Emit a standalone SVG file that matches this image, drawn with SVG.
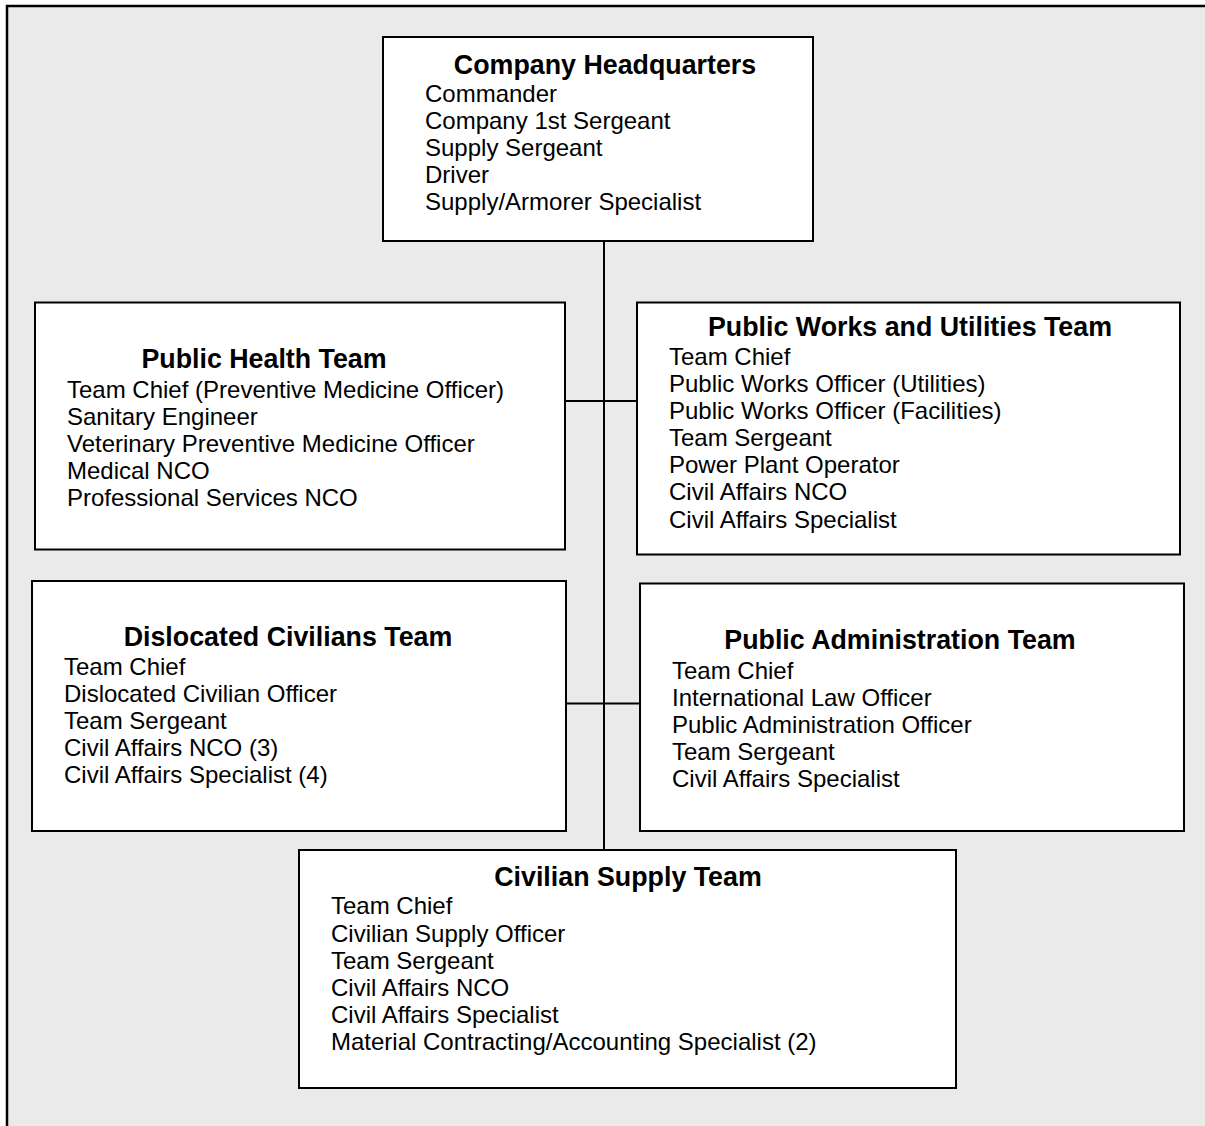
<svg xmlns="http://www.w3.org/2000/svg" width="1205" height="1126" viewBox="0 0 1205 1126">
  <style>
    .frame { fill: #eaeaea; stroke: #000; stroke-width: 2.5; }
    .box { fill: #fff; stroke: #000; stroke-width: 2; }
    .wire { stroke: #000; stroke-width: 2; fill: none; }
    text { font-family: "Liberation Sans", Arial, sans-serif; fill: #000; }
    .title { font-size: 26.8px; font-weight: bold; text-anchor: middle; }
    .item { font-size: 24px; }
  </style>

  <!-- background panel -->
  <rect class="frame" x="7" y="6" width="1210" height="1130"/>

  <!-- connectors -->
  <g id="connectors">
    <line class="wire" x1="604" y1="241" x2="604" y2="850"/>
    <line class="wire" x1="565" y1="401" x2="637" y2="401"/>
    <line class="wire" x1="566" y1="703.5" x2="640" y2="703.5"/>
  </g>

  <g id="company-hq">
    <rect class="box" x="383" y="37" width="430" height="204"/>
    <text class="title" x="605" y="74">Company Headquarters</text>
    <text class="item" x="425" y="102">Commander</text>
    <text class="item" x="425" y="129">Company 1st Sergeant</text>
    <text class="item" x="425" y="156">Supply Sergeant</text>
    <text class="item" x="425" y="183">Driver</text>
    <text class="item" x="425" y="210">Supply/Armorer Specialist</text>
  </g>

  <g id="public-health">
    <rect class="box" x="35" y="302.5" width="530" height="247"/>
    <text class="title" x="264" y="368">Public Health Team</text>
    <text class="item" x="67" y="398">Team Chief (Preventive Medicine Officer)</text>
    <text class="item" x="67" y="425">Sanitary Engineer</text>
    <text class="item" x="67" y="452">Veterinary Preventive Medicine Officer</text>
    <text class="item" x="67" y="479">Medical NCO</text>
    <text class="item" x="67" y="506">Professional Services NCO</text>
  </g>

  <g id="public-works">
    <rect class="box" x="637" y="302.5" width="543" height="252"/>
    <text class="title" x="910" y="336">Public Works and Utilities Team</text>
    <text class="item" x="669" y="365">Team Chief</text>
    <text class="item" x="669" y="392">Public Works Officer (Utilities)</text>
    <text class="item" x="669" y="419">Public Works Officer (Facilities)</text>
    <text class="item" x="669" y="446">Team Sergeant</text>
    <text class="item" x="669" y="473">Power Plant Operator</text>
    <text class="item" x="669" y="500">Civil Affairs NCO</text>
    <text class="item" x="669" y="528">Civil Affairs Specialist</text>
  </g>

  <g id="dislocated-civilians">
    <rect class="box" x="32" y="581" width="534" height="250"/>
    <text class="title" x="288" y="646">Dislocated Civilians Team</text>
    <text class="item" x="64" y="675">Team Chief</text>
    <text class="item" x="64" y="702">Dislocated Civilian Officer</text>
    <text class="item" x="64" y="729">Team Sergeant</text>
    <text class="item" x="64" y="756">Civil Affairs NCO (3)</text>
    <text class="item" x="64" y="783">Civil Affairs Specialist (4)</text>
  </g>

  <g id="public-administration">
    <rect class="box" x="640" y="583.5" width="544" height="247.5"/>
    <text class="title" x="900" y="649">Public Administration Team</text>
    <text class="item" x="672" y="679">Team Chief</text>
    <text class="item" x="672" y="706">International Law Officer</text>
    <text class="item" x="672" y="733">Public Administration Officer</text>
    <text class="item" x="672" y="760">Team Sergeant</text>
    <text class="item" x="672" y="787">Civil Affairs Specialist</text>
  </g>

  <g id="civilian-supply">
    <rect class="box" x="299" y="850" width="657" height="238"/>
    <text class="title" x="628" y="886">Civilian Supply Team</text>
    <text class="item" x="331" y="914">Team Chief</text>
    <text class="item" x="331" y="942">Civilian Supply Officer</text>
    <text class="item" x="331" y="969">Team Sergeant</text>
    <text class="item" x="331" y="996">Civil Affairs NCO</text>
    <text class="item" x="331" y="1023">Civil Affairs Specialist</text>
    <text class="item" x="331" y="1050">Material Contracting/Accounting Specialist (2)</text>
  </g>
</svg>
